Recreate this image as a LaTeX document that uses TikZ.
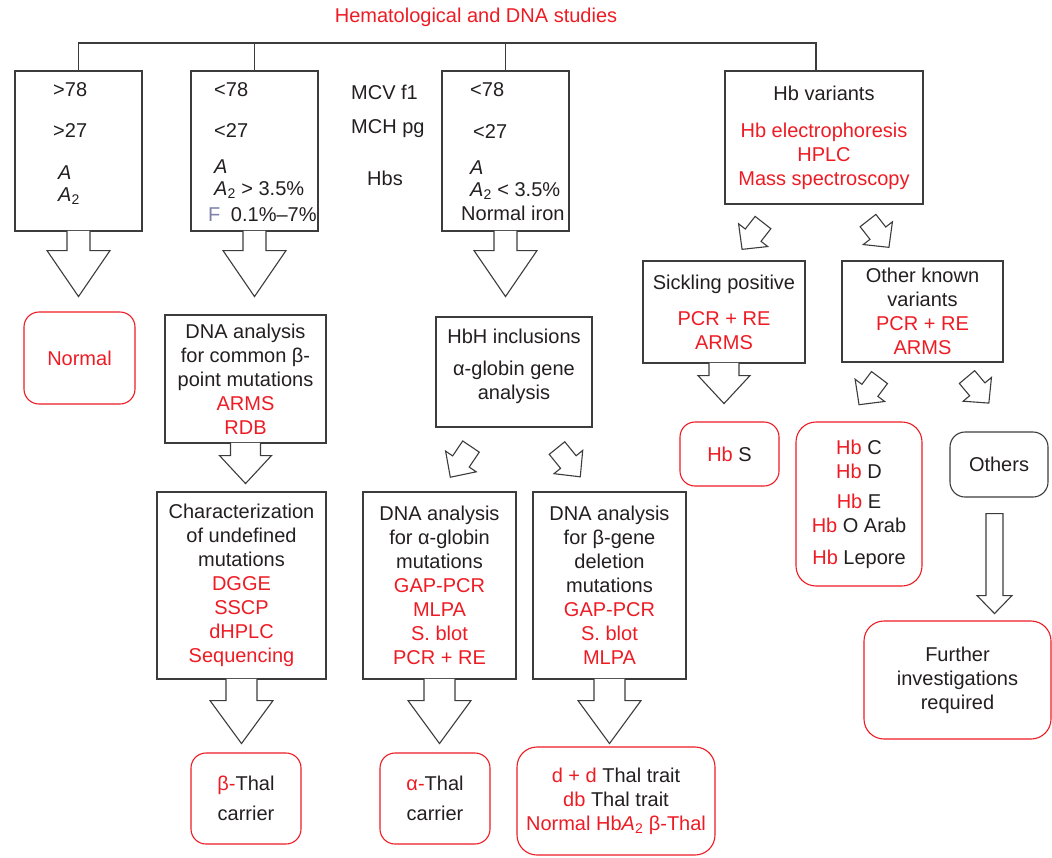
\documentclass[tikz,border=0pt]{standalone}
\usepackage{fontspec}
\setmainfont{Liberation Sans}
\usepackage{xcolor}
\usetikzlibrary{calc}

\definecolor{hred}{RGB}{237,28,36}
\definecolor{hink}{RGB}{35,31,32}
\definecolor{hline}{RGB}{60,60,60}
\definecolor{hgrey}{RGB}{125,130,170}

\newcommand{\rd}[1]{\textcolor{hred}{#1}}
\newcommand{\Atwo}{\textit{A}\textsubscript{2}}

% block arrow hanging from the bottom of a box
\newcommand{\boxarrow}[5]{%
  \filldraw[blockline] ($(#1.south)+(-#2,-0.8)$) -- ($(#1.south)+(-#2,#3)$)
    -- ($(#1.south)+(-#4,#3)$) -- ($(#1.south)+(0,#3+#5)$)
    -- ($(#1.south)+(#4,#3)$) -- ($(#1.south)+(#2,#3)$) -- ($(#1.south)+(#2,-0.8)$);
}
% free block arrow: tail, angle, stem half, stem length, head half, head length
\newcommand{\blockarrow}[6]{%
  \begin{scope}[shift={#1}, rotate=#2]
    \filldraw[blockline] (0,-#3) -- (#4,-#3) -- (#4,-#5) -- (#4+#6,0)
      -- (#4,#5) -- (#4,#3) -- (0,#3) -- cycle;
  \end{scope}
}

\tikzset{
  every node/.style={font=\fontsize{20}{24}\selectfont, text=hink, inner sep=0pt},
  testbox/.style={rectangle, draw=hline, line width=1.1pt, align=center},
  resultbox/.style={rectangle, rounded corners=15pt, draw=hred, line width=1.1pt, align=center},
  blockline/.style={draw=hline, line width=1.1pt, line join=miter, fill=white},
  conn/.style={draw=hline, line width=1.1pt},
}

\begin{document}
\begin{tikzpicture}[x=1pt, y=-1pt]
\useasboundingbox (0,0) rectangle (1052,857);

\node (title) at (476,17) {\rd{Hematological and DNA studies}};

% first row: blood indices
\node [testbox, minimum width=127pt, minimum height=160pt] (normstat) at (78.5,151) {};
\node [testbox, minimum width=127pt, minimum height=160pt] (betastat) at (254.5,151) {};
\node [testbox, minimum width=127pt, minimum height=160pt] (alphastat) at (505.5,151) {};
\node [testbox, minimum width=198pt, minimum height=133pt] (hbvar) at (824,137.5)
  {Hb variants\\[13pt]\rd{Hb electrophoresis}\\\rd{HPLC}\\\rd{Mass spectroscopy}};

\node [anchor=base west] (normMCV) at (53,96) {>78};
\node [anchor=base west] (normMCH) at (53,137) {>27};
\node [anchor=base west] (normA) at (58,179) {\textit{A}};
\node [anchor=base west] (normAtwo) at (58,201) {\Atwo};

\node [anchor=base west] (betaMCV) at (214,96) {<78};
\node [anchor=base west] (betaMCH) at (214,137) {<27};
\node [anchor=base west] (betaA) at (214,173) {\textit{A}};
\node [anchor=base west] (betaAtwo) at (214,195) {\Atwo\ > 3.5\%};
\node [anchor=base west] (betaF) at (208,221) {\textcolor{hgrey}{F}\hspace{5pt} 0.1\%–7\%};

\node [anchor=base west] (mcv) at (351,99) {MCV f1};
\node [anchor=base west] (mch) at (351,133) {MCH pg};
\node [anchor=base west] (hbs) at (367,185) {Hbs};

\node [anchor=base west] (alphaMCV) at (470,96) {<78};
\node [anchor=base west] (alphaMCH) at (473,138) {<27};
\node [anchor=base west] (alphaA) at (470,174) {\textit{A}};
\node [anchor=base west] (alphaAtwo) at (470,196) {\Atwo\ < 3.5\%};
\node [anchor=base west] (alphaIron) at (461,220) {Normal iron};

\coordinate (bus) at (816,43);
\draw [conn] (normstat.north) |- (bus) -- (bus |- hbvar.north);
\draw [conn] (betastat.north) -- (betastat.north |- bus);
\draw [conn] (alphastat.north) -- (alphastat.north |- bus);

\boxarrow{normstat}{11.5}{19}{31.5}{46}
\boxarrow{betastat}{11.5}{19}{31.5}{46}
\boxarrow{alphastat}{11.5}{19}{31.5}{46}

% second row
\node [resultbox, minimum width=111pt, minimum height=92pt] (normal) at (79.5,358) {\rd{Normal}};
\node [testbox, minimum width=161pt, minimum height=128pt] (pointmut) at (245.5,379)
  {DNA analysis\\for common β-\\point mutations\\\rd{ARMS}\\\rd{RDB}};
\node [testbox, minimum width=156pt, minimum height=110pt] (hbh) at (514,372) {};
\node [align=center] (hbhtext) at (514,366) {HbH inclusions\\[8pt]α-globin gene\\analysis};
\node [testbox, minimum width=162pt, minimum height=102pt] (sickling) at (724,312)
  {Sickling positive\\[12pt]\rd{PCR + RE}\\\rd{ARMS}};
\node [testbox, minimum width=161pt, minimum height=101pt] (otherknown) at (922.5,311.5)
  {Other known\\variants\\\rd{PCR + RE}\\\rd{ARMS}};

\blockarrow{($(hbvar.south)+(-61,18)$)}{-128}{10}{16}{18.5}{18}
\blockarrow{($(hbvar.south)+(44,16)$)}{-52}{10}{16}{18.5}{18}

\boxarrow{pointmut}{15}{12}{26}{28}
\boxarrow{sickling}{15}{12}{26}{28}

\blockarrow{($(hbh.south)+(-43,19)$)}{-124}{10}{18}{18.5}{19}
\blockarrow{($(hbh.south)+(43,20.5)$)}{-51}{10}{18}{18.5}{19}
\blockarrow{($(otherknown.south)+(-43,15)$)}{-127}{10}{16}{18.5}{18}
\blockarrow{($(otherknown.south)+(44.5,14.5)$)}{-50}{10}{16}{18.5}{18}

% third row
\node [resultbox, minimum width=99pt, minimum height=64pt] (hbS) at (729.5,454) {\rd{Hb} S};
\node [resultbox, rounded corners=20pt, minimum width=126pt, minimum height=164pt] (hbC) at (859,504)
  {\rd{Hb} C\\\rd{Hb} D\\[6pt]\rd{Hb} E\\\rd{Hb} O Arab\\[8pt]\rd{Hb} Lepore};
\node [resultbox, draw=hline, minimum width=98pt, minimum height=65pt] (others) at (999,464.5) {Others};
\blockarrow{($(others.south)+(-4.5,16)$)}{-90}{8.5}{82}{17.5}{18}

\node [testbox, minimum width=169pt, minimum height=187pt] (undefmut) at (241.5,585.5)
  {Characterization\\of undefined\\mutations\\\rd{DGGE}\\\rd{SSCP}\\\rd{dHPLC}\\\rd{Sequencing}};
\node [testbox, minimum width=153pt, minimum height=187pt] (alphamut) at (439.5,585.5)
  {DNA analysis\\for α-globin\\mutations\\\rd{GAP-PCR}\\\rd{MLPA}\\\rd{S. blot}\\\rd{PCR + RE}};
\node [testbox, minimum width=153pt, minimum height=187pt] (deletmut) at (609.5,585.5)
  {DNA analysis\\for β-gene\\deletion\\mutations\\\rd{GAP-PCR}\\\rd{S. blot}\\\rd{MLPA}};
\node [resultbox, rounded corners=20pt, minimum width=187pt, minimum height=118pt] (further) at (957.5,680)
  {Further\\investigations\\required};

\boxarrow{undefmut}{15.5}{21}{31.5}{43}
\boxarrow{alphamut}{15.5}{21}{31.5}{43}
\boxarrow{deletmut}{15.5}{21}{31.5}{43}

% last row
\node [resultbox, minimum width=110pt, minimum height=91pt] (betacarrier) at (246,798.5)
  {\rd{β-}Thal\\[6pt]carrier};
\node [resultbox, minimum width=110pt, minimum height=91pt] (alphacarrier) at (435,798.5)
  {\rd{α-}Thal\\[6pt]carrier};
\node [resultbox, rounded corners=20pt, minimum width=198pt, minimum height=108pt] (deltatrait) at (616,801)
  {\rd{d + d} Thal trait\\\rd{db} Thal trait\\\rd{Normal Hb\Atwo\ β-Thal}};
\end{tikzpicture}
\end{document}
